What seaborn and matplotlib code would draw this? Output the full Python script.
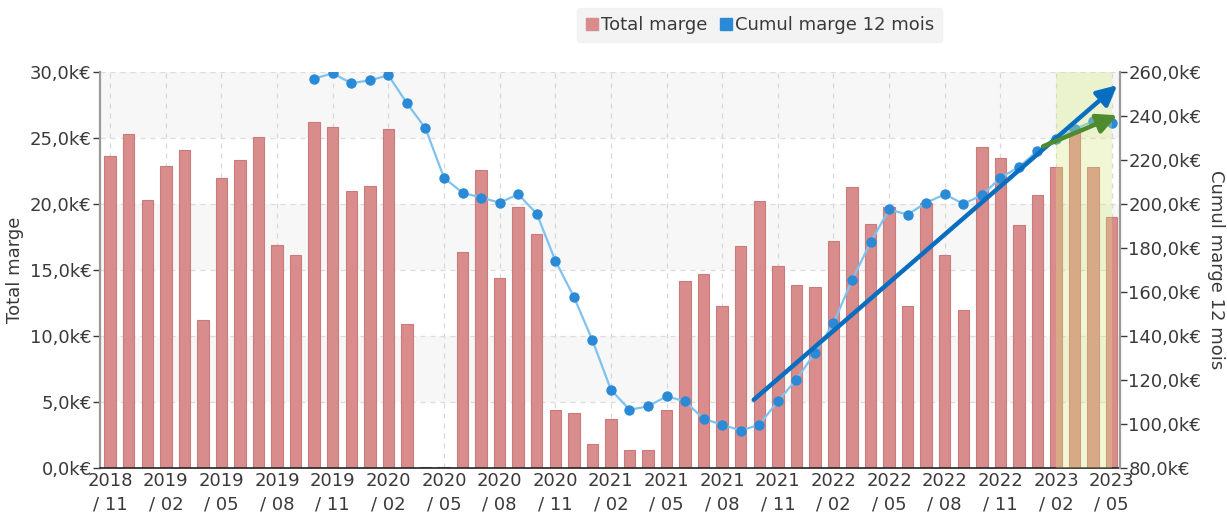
import matplotlib
matplotlib.use("Agg")
import matplotlib.pyplot as plt
from matplotlib.lines import Line2D
from matplotlib.ticker import FuncFormatter
import seaborn as sns

# ---- data (k€) ----
months = [f"{2018 + (10 + i) // 12}/{(10 + i) % 12 + 1:02d}" for i in range(55)]  # 2018/11 .. 2023/05

total_marge = [
    23.6, 25.3, 20.3, 22.9, 24.1, 11.2, 22.0, 23.3, 25.1, 16.9,
    16.1, 26.2, 25.8, 21.0, 21.4, 25.7, 10.9, 0.05, 0.05, 16.4,
    22.6, 14.4, 19.8, 17.7, 4.4, 4.2, 1.8, 3.7, 1.4, 1.4,
    4.4, 14.2, 14.7, 12.3, 16.8, 20.2, 15.3, 13.9, 13.7, 17.2,
    21.3, 18.5, 19.8, 12.3, 20.1, 16.1, 12.0, 24.3, 23.5, 18.4,
    20.7, 22.8, 25.7, 22.8, 19.0,
]

# cumul 12 mois starts at 2019/10 (index 11)
cumul_start = 11
cumul_12 = [
    257.0, 259.4, 254.9, 256.2, 258.5, 245.8, 234.4, 211.9, 205.1, 202.9,
    200.6, 204.4, 195.6, 174.3, 157.8, 138.1, 115.6, 106.5, 108.0, 112.6,
    110.3, 102.3, 99.7, 97.0, 99.7, 110.3, 120.2, 132.3, 145.7, 165.4,
    182.6, 197.5, 195.2, 200.6, 204.4, 200.1, 203.9, 211.9, 216.8, 224.1,
    229.4, 233.9, 237.7, 237.0,
]

bar_color = "#d98c8c"
line_color = "#80c2ee"
marker_color = "#2b8ad6"
text_color = "#3a3a3a"

sns.set_theme(style="white")
plt.rcParams["font.family"] = ["DejaVu Sans"]
fs = 13

fig = plt.figure(figsize=(12.27, 5.16), dpi=100)
ax = fig.add_axes([100 / 1227, 48 / 516, 1020 / 1227, 396 / 516])

# alternating background bands
for lo in range(0, 30, 5):
    if (lo // 5) % 2 == 1:
        ax.axhspan(lo, lo + 5, color="#f7f7f7", zorder=0, lw=0)

sns.barplot(x=months, y=total_marge, ax=ax, color=bar_color, width=0.62,
            edgecolor="#c97a7a", linewidth=0.8, saturation=1, zorder=2)

tick_pos = list(range(0, 55, 3))
for p in tick_pos:
    ax.axvline(p, color="#d8d8d8", ls=(0, (4, 4)), lw=0.9, zorder=1)
for v in range(5, 31, 5):
    ax.axhline(v, color="#dcdcdc", ls=(0, (4, 4)), lw=0.9, zorder=1)

ax.set_xlim(-0.55, 54.45)
ax.set_ylim(0, 30)
ax.set_yticks(range(0, 31, 5))
ax.yaxis.set_major_formatter(FuncFormatter(lambda v, p: f"{v:.1f}k€".replace(".", ",")))
ax.set_xticks(tick_pos)
ax.set_xticklabels([m.replace("/", "\n/ ") for m in [months[p] for p in tick_pos]],
                   linespacing=1.4)
ax.tick_params(axis="x", length=0, pad=3, labelsize=fs, colors=text_color)
ax.tick_params(axis="y", length=5, width=1, pad=1, labelsize=fs, colors=text_color,
               left=True)
ax.set_xlabel("")
ax.set_ylabel("Total marge", fontsize=fs, color=text_color, labelpad=4)

for s in ["top", "right"]:
    ax.spines[s].set_visible(False)
ax.spines["left"].set_color("#999999")
ax.spines["left"].set_linewidth(1.6)
ax.spines["bottom"].set_color("#222222")
ax.spines["bottom"].set_linewidth(1.2)

# second axis : cumul 12 mois
ax2 = ax.twinx()
x_cum = list(range(cumul_start, cumul_start + len(cumul_12)))
sns.lineplot(x=x_cum, y=cumul_12, ax=ax2, color=line_color, lw=1.6,
             marker="o", markersize=7.5, markerfacecolor=marker_color,
             markeredgewidth=0, zorder=3)
ax2.set_ylim(80, 260)
ax2.set_yticks(range(80, 261, 20))
ax2.yaxis.set_major_formatter(FuncFormatter(lambda v, p: f"{v:.1f}k€".replace(".", ",")))
ax2.tick_params(axis="y", length=5, width=1, pad=1, labelsize=fs, colors=text_color,
                right=True)
ax2.set_ylabel("Cumul marge 12 mois", fontsize=fs, color=text_color, rotation=270,
               labelpad=17)
for s in ["top", "left", "bottom"]:
    ax2.spines[s].set_visible(False)
ax2.spines["right"].set_color("#999999")
ax2.spines["right"].set_linewidth(1.6)
ax2.set_xlim(-0.55, 54.45)

# highlighted period (2023/02 - 2023/05)
ax2.axvspan(51, 54, color="#d4e87a", alpha=0.32, lw=0, zorder=5)

# trend arrows
ax2.annotate("", xy=(54.3, 254), xytext=(34.7, 111),
             arrowprops=dict(arrowstyle="-|>,head_length=1.0,head_width=0.5",
                             color="#0a6ec0", lw=3.2, shrinkA=0, shrinkB=0), zorder=6)
ax2.annotate("", xy=(54.3, 240.3), xytext=(50.3, 226.2),
             arrowprops=dict(arrowstyle="-|>,head_length=1.0,head_width=0.5",
                             color="#4e8a2e", lw=3.2, shrinkA=0, shrinkB=0), zorder=6)

# legend
handles = [
    Line2D([], [], ls="", marker="s", markersize=8, color=bar_color, label="Total marge"),
    Line2D([], [], ls="", marker="s", markersize=8, color=marker_color, label="Cumul marge 12 mois"),
]
leg = fig.legend(handles=handles, loc="center", bbox_to_anchor=(0.619, 0.951), ncol=2,
                 fontsize=fs, frameon=True, handletextpad=0.1, columnspacing=0.6,
                 handlelength=0.8, borderpad=0.45, fancybox=True)
leg.get_frame().set_facecolor("#f0f0f0")
leg.get_frame().set_edgecolor("#f0f0f0")
for t in leg.get_texts():
    t.set_color(text_color)

fig.savefig("out.png", dpi=100)
